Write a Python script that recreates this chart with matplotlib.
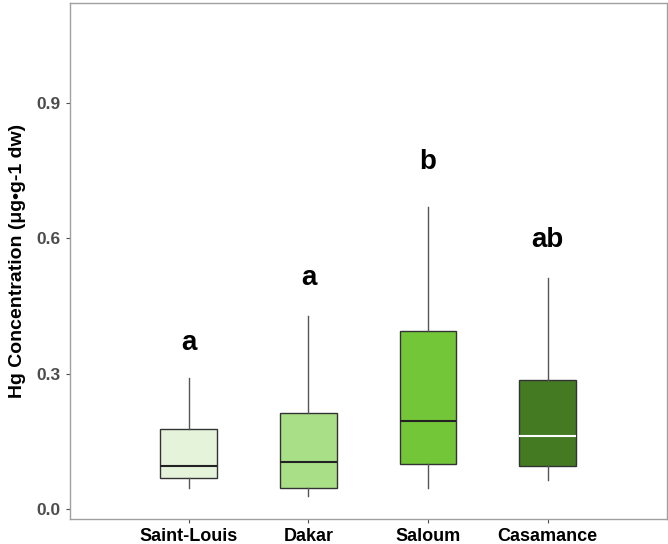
import matplotlib.pyplot as plt

plt.rcParams['font.family'] = ['Liberation Sans', 'DejaVu Sans']

sites = ["Saint-Louis", "Dakar", "Saloum", "Casamance"]
whisker_low = [0.047, 0.029, 0.047, 0.064]
q1 = [0.070, 0.047, 0.101, 0.095]
medians = [0.096, 0.105, 0.195, 0.163]
q3 = [0.178, 0.213, 0.395, 0.286]
whisker_high = [0.291, 0.428, 0.669, 0.512]
letters = ["a", "a", "b", "ab"]
letter_y = [0.368, 0.512, 0.769, 0.596]

box_colors = ["#E5F3DB", "#A9DF87", "#73C637", "#447A22"]
median_colors = ["#222222", "#222222", "#222222", "#FFFFFF"]

stats = []
for i, name in enumerate(sites):
    stats.append({
        "label": name,
        "whislo": whisker_low[i],
        "q1": q1[i],
        "med": medians[i],
        "q3": q3[i],
        "whishi": whisker_high[i],
        "fliers": [],
    })

fig = plt.figure(figsize=(6.68, 5.44), dpi=100)
ax = fig.add_axes([70 / 668, 1 - 519 / 544, (667 - 70) / 668, (519 - 3) / 544])

positions = [1, 2, 3, 4]
bp = ax.bxp(stats, positions=positions, widths=0.475, patch_artist=True,
            showcaps=False,
            boxprops=dict(edgecolor="#333333", linewidth=1.0),
            whiskerprops=dict(color="#555555", linewidth=1.0),
            medianprops=dict(linewidth=1.5))

for patch, c in zip(bp["boxes"], box_colors):
    patch.set_facecolor(c)
for med, c in zip(bp["medians"], median_colors):
    med.set_color(c)

for x, txt, y in zip(positions, letters, letter_y):
    ax.text(x, y, txt, ha="center", va="center", fontsize=20, fontweight="bold", color="black")

ax.set_xlim(0.007, 4.997)
ax.set_ylim(-0.022, 1.122)
ax.set_yticks([0.0, 0.3, 0.6, 0.9])
ax.set_yticklabels(["0.0", "0.3", "0.6", "0.9"])
ax.set_xticks(positions)
ax.set_xticklabels(sites)

ax.tick_params(axis="y", labelsize=12.5, colors="#4D4D4D", length=3, width=0.8)
ax.tick_params(axis="x", labelsize=13, colors="#4D4D4D", length=3, width=0.8, labelcolor="black")
for lab in ax.get_yticklabels() + ax.get_xticklabels():
    lab.set_fontweight("bold")

for sp in ax.spines.values():
    sp.set_color("#A0A0A0")
    sp.set_linewidth(1.0)

ax.set_ylabel("Hg Concentration (μg•g-1 dw)", fontsize=14, fontweight="bold", labelpad=8)

fig.savefig("out.png", dpi=100)
